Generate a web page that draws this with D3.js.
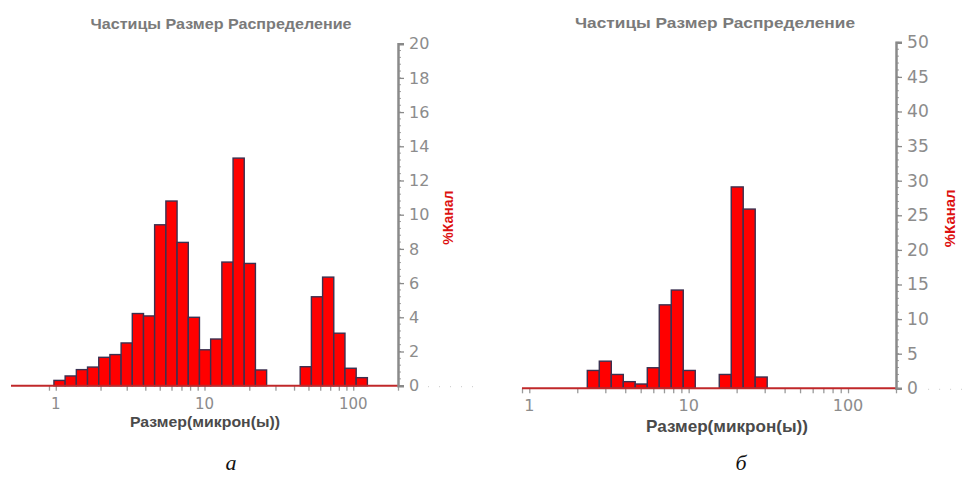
<!DOCTYPE html>
<html>
<head>
<meta charset="utf-8">
<script src="https://cdn.jsdelivr.net/npm/d3@7"></script>
<style>
  body { margin: 0; background: #fff; }
</style>
</head>
<body>
<div id="chart"></div>
<script>
// microtrac channel edges (microns), one bar per pair of neighbouring edges
const channelEdges = [0.972, 1.156, 1.375, 1.635, 1.945, 2.312, 2.75, 3.27, 3.89, 4.62, 5.5, 6.54, 7.78, 9.25,
  11, 13.08, 15.56, 18.5, 22, 26.16, 31.11, 37, 44, 52.33, 62.23, 74, 88, 104.7, 124.5, 148];

// % per channel, sample a
const valuesA = [0.31, 0.57, 0.94, 1.09, 1.66, 1.82, 2.5, 4.22, 4.08, 9.41, 10.8, 8.38, 4.0, 2.1,
  2.73, 7.23, 13.31, 7.15, 0.92, 0, 0, 0, 1.11, 5.2, 6.35, 3.07, 1.02, 0.47, 0];

// % per channel, sample b
const valuesB = [0, 0, 0, 0, 0, 2.58, 3.92, 2.0, 0.96, 0.62, 2.97, 12.06, 14.2, 2.58,
  0, 0, 2.0, 29.1, 25.9, 1.63, 0, 0, 0, 0, 0, 0, 0, 0, 0];

const yTicksA = [0, 2, 4, 6, 8, 10, 12, 14, 16, 18, 20];
const yTicksB = [0, 5, 10, 15, 20, 25, 30, 35, 40, 45, 50];
const xTickLabels = [1, 10, 100];

const titleText = "Частицы Размер Распределение";
const xTitleText = "Размер(микрон(ы))";
const yTitleText = "%Канал";
const panelLabels = ["а", "б"];

const W = 962, H = 477;

const svg = d3.select("#chart")
  .append("svg")
  .attr("width", W)
  .attr("height", H);

// the two panels were scaled a bit differently in the figure, so each gets its own box
const panels = [
  { values: valuesA, yTicks: yTicksA, yMax: 20, minorStep: 0.4,
    x0: 11, x1: 398, xMin: 0.5, y0: 385.7, y1: 43.7, k: 1,
    titleX: 221, titleY: 29, titleW: 261,
    xTitleX: 205, xTitleY: 427, xTitleW: 150, xLabelY: 409,
    label: panelLabels[0], labelX: 231 },
  { values: valuesB, yTicks: yTicksB, yMax: 50, minorStep: 1,
    x0: 522, x1: 896, xMin: 0.9, y0: 388.3, y1: 42.3, k: 1.07,
    titleX: 715, titleY: 28, titleW: 280,
    xTitleX: 727, xTitleY: 432, xTitleW: 162, xLabelY: 411,
    label: panelLabels[1], labelX: 741 }
];

panels.forEach(function (p) {
  const g = svg.append("g");

  const x = d3.scaleLog()
    .domain([p.xMin, 200])
    .range([p.x0, p.x1]);

  const y = d3.scaleLinear()
    .domain([0, p.yMax])
    .range([p.y0, p.y1]);

  // title (the original font is wider than Arial, so stretch it to the same width)
  g.append("text")
    .attr("x", p.titleX)
    .attr("y", p.titleY)
    .attr("text-anchor", "middle")
    .attr("font-family", "Liberation Sans, Arial, sans-serif")
    .attr("font-weight", "bold")
    .attr("font-size", (14 * p.k) + "px")
    .attr("textLength", p.titleW)
    .attr("lengthAdjust", "spacingAndGlyphs")
    .attr("fill", "#7a7a7a")
    .text(titleText);

  // x axis minor/major ticks (only from 0.9 up, like the original)
  const xTicks = [];
  [0.1, 1, 10, 100].forEach(function (dec) {
    for (let m = 1; m <= 9; m++) {
      const v = +(m * dec).toFixed(4);
      if (v >= 0.9 && v <= 200) xTicks.push(v);
    }
  });
  const xAxis = g.append("g")
    .attr("transform", "translate(0," + p.y0 + ")")
    .call(d3.axisBottom(x).tickValues(xTicks).tickSize(5).tickFormat(""));
  xAxis.select(".domain").remove();
  xAxis.selectAll("line").attr("stroke", "#9a9a9a").attr("stroke-width", 1.3);

  // x tick labels
  g.selectAll(null)
    .data(xTickLabels)
    .join("text")
    .attr("x", d => x(d))
    .attr("y", p.xLabelY)
    .attr("text-anchor", "middle")
    .attr("font-family", "DejaVu Sans, Verdana, sans-serif")
    .attr("font-size", (15 * p.k) + "px")
    .attr("fill", "#8c8c8c")
    .text(d => d);

  // x axis title
  g.append("text")
    .attr("x", p.xTitleX)
    .attr("y", p.xTitleY)
    .attr("text-anchor", "middle")
    .attr("font-family", "Liberation Sans, Arial, sans-serif")
    .attr("font-weight", "bold")
    .attr("font-size", (15 * p.k) + "px")
    .attr("textLength", p.xTitleW)
    .attr("lengthAdjust", "spacingAndGlyphs")
    .attr("fill", "#4a4a4a")
    .text(xTitleText);

  // the bars, one per channel
  const bins = p.values.map((v, i) => ({ lo: channelEdges[i], hi: channelEdges[i + 1], v: v }))
    .filter(d => d.v > 0);

  g.selectAll(".bar")
    .data(bins)
    .join("rect")
    .attr("class", "bar")
    .attr("x", d => x(d.lo))
    .attr("width", d => x(d.hi) - x(d.lo))
    .attr("y", d => y(d.v))
    .attr("height", d => y(0) - y(d.v))
    .attr("fill", "#ff0000")
    .attr("stroke", "#3b3150")
    .attr("stroke-width", 1.4);

  // red baseline
  g.append("line")
    .attr("x1", p.x0)
    .attr("x2", p.x1)
    .attr("y1", y(0))
    .attr("y2", y(0))
    .attr("stroke", "#c0282a")
    .attr("stroke-width", 2);

  // y axis on the right side, minor ticks first
  const minor = d3.range(0, p.yMax + 1e-9, p.minorStep);
  g.selectAll(".minor")
    .data(minor)
    .join("line")
    .attr("x1", p.x1)
    .attr("x2", p.x1 + 3)
    .attr("y1", d => y(d))
    .attr("y2", d => y(d))
    .attr("stroke", "#a0a0a0")
    .attr("stroke-width", 1);

  const yAxis = g.append("g")
    .attr("transform", "translate(" + p.x1 + ",0)")
    .call(d3.axisRight(y).tickValues(p.yTicks).tickSize(6).tickPadding(5));
  yAxis.select(".domain")
    .attr("stroke", "#8a8a8a")
    .attr("stroke-width", 2.5);
  yAxis.selectAll("line").attr("stroke", "#8a8a8a").attr("stroke-width", 1.3);
  yAxis.selectAll("text")
    .attr("font-family", "DejaVu Sans, Verdana, sans-serif")
    .attr("font-size", (16 * p.k) + "px")
    .attr("fill", "#8c8c8c");

  // faint dots trailing the zero label
  g.append("line")
    .attr("x1", p.x1 + 30 * p.k)
    .attr("x2", p.x1 + 75 * p.k)
    .attr("y1", y(0) + 1)
    .attr("y2", y(0) + 1)
    .attr("stroke", "#c8c8c8")
    .attr("stroke-width", 1)
    .attr("stroke-dasharray", "1,10");

  // y title, red, reads bottom-to-top
  const ty = (y(0) + y(p.yMax)) / 2 + 3;
  const tx = p.x1 + 55 * p.k;
  g.append("text")
    .attr("transform", "translate(" + tx + "," + ty + ") rotate(-90)")
    .attr("text-anchor", "middle")
    .attr("font-family", "Liberation Sans, Arial, sans-serif")
    .attr("font-weight", "bold")
    .attr("font-size", (14 * p.k) + "px")
    .attr("fill", "#dd1111")
    .text(yTitleText);

  // panel letter under the chart
  g.append("text")
    .attr("x", p.labelX)
    .attr("y", 470)
    .attr("text-anchor", "middle")
    .attr("font-family", "Liberation Serif, Times New Roman, serif")
    .attr("font-style", "italic")
    .attr("font-size", "22px")
    .attr("fill", "#111")
    .text(p.label);
});
</script>
</body>
</html>
